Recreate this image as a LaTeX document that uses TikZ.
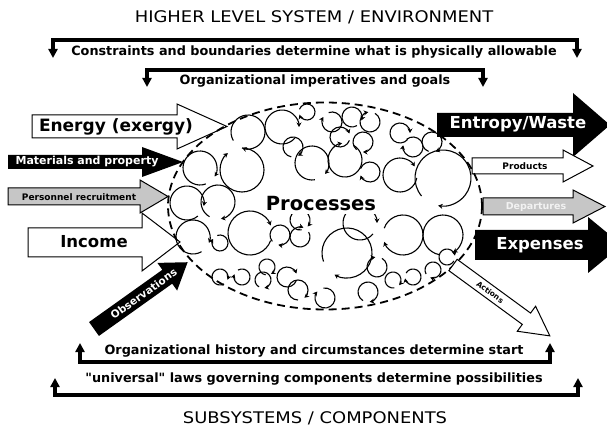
\documentclass[tikz,border=0pt]{standalone}
\usepackage{fontspec}
\setmainfont{DejaVu Sans}
\newfontfamily\widefont[FakeStretch=1.12]{DejaVu Sans}
\usetikzlibrary{arrows.meta,shapes.geometric}

\begin{document}
\begin{tikzpicture}[x=1pt,y=-1pt,
  brace/.style={line width=3.2pt,line join=miter,{Triangle[length=9pt,width=9pt]}-{Triangle[length=9pt,width=9pt]}},
  lbl/.style={font=\bfseries\fontsize{12.8}{14}\selectfont,inner sep=0pt},
  head/.style={font=\widefont\fontsize{16}{18}\selectfont,inner sep=0pt},
  blk/.style={draw,line width=1pt,line join=miter},
  cyc/.style={line width=1.1pt,-{Stealth[length=4.5pt,width=5pt]}}]
  \useasboundingbox (0,0) rectangle (607,427);

  % Titles
  \node[head] (env) at (314,17) {HIGHER LEVEL SYSTEM / ENVIRONMENT};
  \node[head] (sub) at (315,418) {SUBSYSTEMS / COMPONENTS};

  % Top-down influences
  \coordinate (cl) at (53,58);  \coordinate (cr) at (577,58);
  \draw[brace] (cl) -- ++(0,-18) -- ++(524,0) -- (cr);
  \node[lbl] (cons) at (314,52) {Constraints and boundaries determine what is physically allowable};
  \coordinate (gl) at (147,87); \coordinate (gr) at (483,87);
  \draw[brace] (gl) -- ++(0,-17) -- ++(336,0) -- (gr);
  \node[lbl] (goals) at (315,81) {Organizational imperatives and goals};

  % Inputs
  \draw[blk,fill=white] (32,115) -- (177,115) -- (177,104) -- (227,126.5) -- (177,149) -- (177,138) -- (32,138) -- cycle;
  \node[font=\bfseries\fontsize{17}{19}\selectfont] (energy) at (116,127) {Energy (exergy)};
  \fill (8,155) -- (142,155) -- (142,147) -- (183,162) -- (142,177) -- (142,169) -- (8,169) -- cycle;
  \node[font=\bfseries\fontsize{11}{12}\selectfont,white] (mat) at (87,162) {Materials and property};
  \draw[blk,fill=gray!45] (8,188) -- (140,188) -- (140,180) -- (168,196.5) -- (140,213) -- (140,205) -- (8,205) -- cycle;
  \node[font=\bfseries\fontsize{9}{10}\selectfont] (pers) at (79,197) {Personnel recruitment};
  \draw[blk,fill=white] (28,228) -- (142,228) -- (142,213) -- (180,242) -- (142,271) -- (142,257) -- (28,257) -- cycle;
  \node[font=\bfseries\fontsize{16.5}{18}\selectfont] (inc) at (94,242) {Income};

  % Outputs
  \fill (437,113) -- (573,113) -- (573,93) -- (610,125) -- (573,157) -- (573,137) -- (437,137) -- cycle;
  \node[font=\bfseries\fontsize{16.5}{18}\selectfont,white] (ent) at (518,124) {Entropy/Waste};
  \draw[blk,fill=white] (472,158) -- (563,158) -- (563,150) -- (593,166) -- (563,182) -- (563,174) -- (472,174) -- cycle;
  \node[font=\bfseries\fontsize{9}{10}\selectfont] (prod) at (525,166) {Products};
  \draw[blk,fill=gray!45] (483,198) -- (573,198) -- (573,190) -- (605,206.5) -- (573,223) -- (573,215) -- (483,215) -- cycle;
  \node[font=\bfseries\fontsize{9.5}{10}\selectfont,gray!10] (dep) at (536,207) {Departures};
  \fill (475,230) -- (588,230) -- (588,217) -- (622,245) -- (588,273) -- (588,260) -- (475,260) -- cycle;
  \node[font=\bfseries\fontsize{16.5}{18}\selectfont,white] (exp) at (540,245) {Expenses};

  % Process cycles
  \foreach \cx/\cy/\r/\a in {200/168/17/70, 248/132/17/150, 282/127/17/40, 307/112/8/200,
      293/147/10/100, 332/122/10/250, 352/117/10/60, 370/122/10/300, 340/137/10/20,
      363/142/10/130, 312/163/17/80, 345/160/17/300, 370/172/10/200, 400/133/10/40,
      413/147/10/230, 432/142/10/110, 400/175/17/10, 443/178/28/140, 242/170/22/270,
      187/203/17/50, 218/202/17/120, 193/237/17/60, 220/243/8/250, 250/233/22/20,
      280/235/10/140, 300/237/10/330, 300/220/10/80, 267/267/8/100, 347/253/25/160,
      360/223/17/40, 403/235/20/200, 443/235/20/100, 377/267/10/300, 220/277/8/60,
      242/277/8/240, 263/280/8/120, 287/277/10/20, 393/280/8/80, 413/277/8/210,
      433/270/8/150, 447/257/8/30, 298/290/10/90, 325/298/10/260, 368/292/10/120}
    \draw[cyc] (\cx,\cy) ++(\a:\r) arc[start angle=\a, delta angle=320, radius=\r];

  % System boundary
  \node[draw,ellipse,line width=1.8pt,dash pattern=on 8pt off 5pt,minimum width=314pt,minimum height=207pt] (sys) at (325,206) {};
  \node[fill=white,inner sep=3pt,font=\bfseries\fontsize{19.5}{21}\selectfont] (proc) at (321,204) {Processes};

  % Feedback
  \begin{scope}[shift={(94,329)},rotate=35.5]
    \fill (0,-8.5) -- (90,-8.5) -- (90,-17) -- (115,0) -- (90,17) -- (90,8.5) -- (0,8.5) -- cycle;
    \node[font=\bfseries\fontsize{10.5}{11}\selectfont,white,rotate=35.5] (obs) at (61,0) {Observations};
  \end{scope}
  \begin{scope}[shift={(453,265)},rotate=-36.2]
    \draw[blk,fill=white] (0,-7) -- (91,-7) -- (91,-15.5) -- (120,0) -- (91,15.5) -- (91,7) -- (0,7) -- cycle;
    \node[font=\bfseries\fontsize{7.5}{8}\selectfont,rotate=-36.2] (act) at (46,0) {Actions};
  \end{scope}

  % Bottom-up influences
  \coordinate (hl) at (80,343);  \coordinate (hr) at (550,343);
  \draw[brace] (hl) -- ++(0,19) -- ++(470,0) -- (hr);
  \node[lbl] (hist) at (314,351) {Organizational history and circumstances determine start};
  \coordinate (ul) at (55,378);  \coordinate (ur) at (578,378);
  \draw[brace] (ul) -- ++(0,17) -- ++(523,0) -- (ur);
  \node[lbl] (laws) at (314,379) {\textquotedbl universal\textquotedbl{} laws governing components determine possibilities};
\end{tikzpicture}
\end{document}
